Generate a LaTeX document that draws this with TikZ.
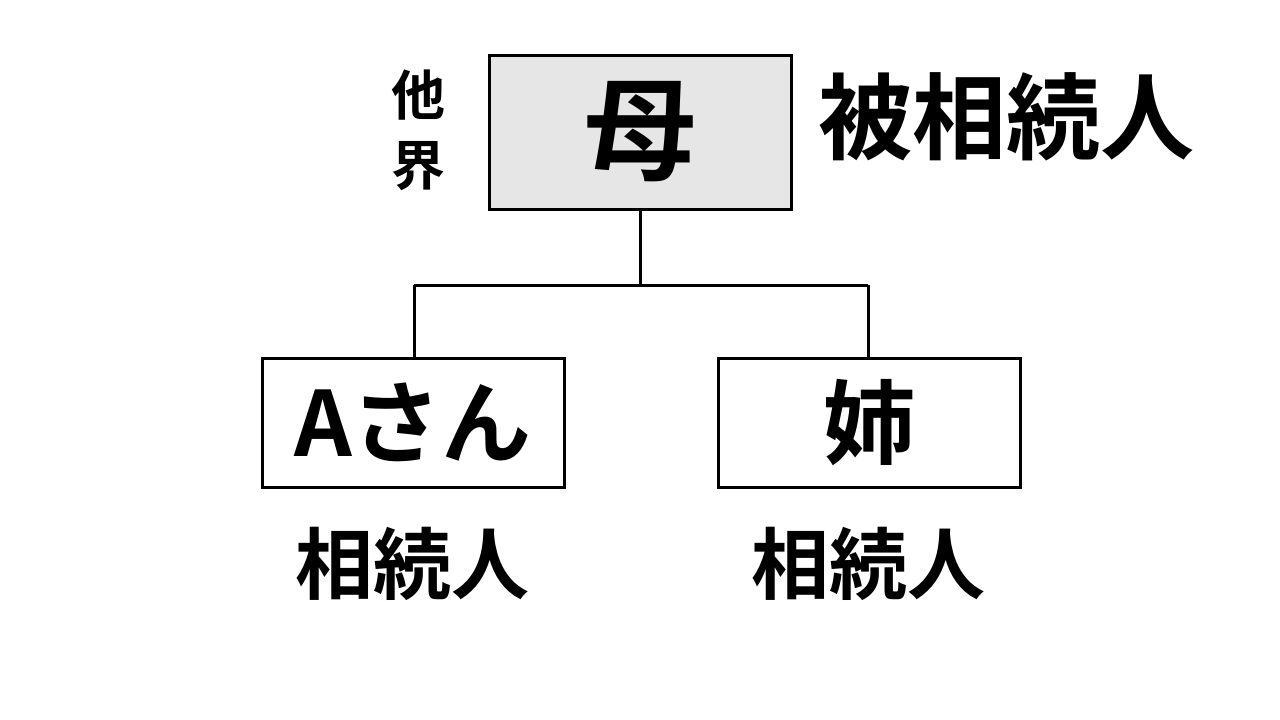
\documentclass[tikz,border=0pt]{standalone}
\usepackage{fontspec}
\setmainfont{Noto Sans CJK JP}[BoldFont={Noto Sans CJK JP Bold}]
\definecolor{boxgray}{HTML}{E7E6E6}
\begin{document}
\begin{tikzpicture}[x=1pt,y=-1pt,
  person/.style={draw=black,line width=3pt,minimum width=302pt,inner sep=0pt,font=\bfseries},
  conn/.style={draw=black,line width=3pt},
  lbl/.style={inner sep=0pt,font=\bfseries}]
\useasboundingbox (0,0) rectangle (1280,720);
\node[person,fill=boxgray,minimum height=154pt,font=\fontsize{112}{112}\selectfont\bfseries] (mother) at (640,132) {母};
\node[person,fill=white,minimum height=129pt,font=\fontsize{90}{90}\selectfont\bfseries] (a) at (413,422.5) {Aさん};
\node[person,fill=white,minimum height=129pt,font=\fontsize{92}{92}\selectfont\bfseries] (sis) at (869,422.5) {姉};
\node[lbl,font=\fontsize{54}{70}\selectfont\bfseries,align=center] (dead) at (418,130) {他\\界};
\node[lbl,font=\fontsize{94}{94}\selectfont\bfseries] (decedent) at (1006,117) {被相続人};
\node[lbl,font=\fontsize{78}{78}\selectfont\bfseries] (heirA) at (412,564) {相続人};
\node[lbl,font=\fontsize{78}{78}\selectfont\bfseries] (heirS) at (868,564) {相続人};
\coordinate (j) at (640,285);
\coordinate (jl) at (414,285);
\coordinate (jr) at (868,285);
\draw[conn] (mother.south) -- (j);
\draw[conn] (jl) -- (jr);
\draw[conn] (jl) -- (jl |- a.north);
\draw[conn] (jr) -- (jr |- sis.north);
\end{tikzpicture}
\end{document}
